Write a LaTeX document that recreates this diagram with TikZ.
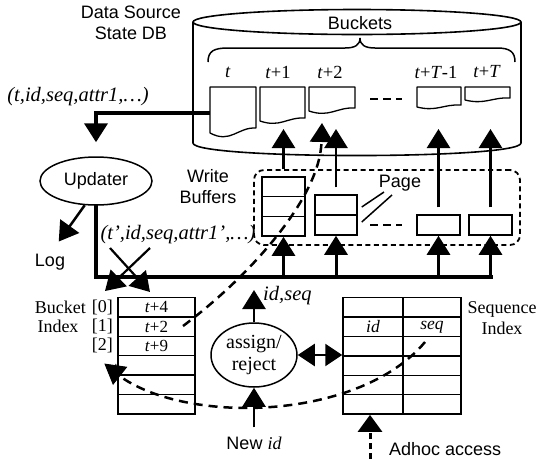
\documentclass[tikz,border=0pt]{standalone}
\usepackage{fontspec}
\setmainfont{Liberation Serif}
\newfontfamily\sansf{Liberation Sans}
\usetikzlibrary{arrows.meta,calc,shapes.geometric}

% name, x1, x2, ytop, yleft-bottom, right rise
\newcommand{\bkpage}[6]{%
  \draw[pageline] (#2,#4) -- (#3,#4) -- (#3,{#5-#6})
    .. controls ({#3-0.4*(#3-#2)},{#5-#6-1}) and ({#2+0.45*(#3-#2)},{#5+2*#6+1}) .. (#2,#5) -- cycle;
  \node[inner sep=0pt, minimum width={#3-#2}, minimum height={#5-#4}, anchor=north west] (#1) at (#2,#4) {};
}

\begin{document}
\begin{tikzpicture}[x=1pt,y=-1pt,
  >={Triangle[width=23pt,length=19pt]},
  pageline/.style={line width=1.3pt, line join=round},
  cyl/.style={line width=1.6pt},
  cell/.style={draw, line width=1.5pt, inner sep=0pt, font=\fontsize{17}{19}\selectfont},
  sans18/.style={font=\sansf\fontsize{18}{21}\selectfont, inner sep=0pt},
  ser18/.style={font=\fontsize{18}{21}\selectfont, inner sep=0pt},
  ser20/.style={font=\fontsize{20.5}{23}\selectfont, inner sep=0pt},
  uparrow/.style={line width=2.5pt, ->, shorten <=7pt},
  busarrow/.style={line width=3pt, ->},
  dcurve/.style={line width=2.5pt, dash pattern=on 9pt off 6pt},
  ell/.style={draw, ellipse, line width=1.5pt, inner sep=0pt},
  gapdash/.style={line width=1.5pt, dash pattern=on 8pt off 5pt}
]
\useasboundingbox (0,0) rectangle (536,459);

% ---------- Data source state DB (cylinder) ----------
\node[sans18, align=center] (dslbl) at (131,23) {Data Source\\State DB};
\draw[cyl] (357,22) ellipse [x radius=164, y radius=12.5];
\draw[cyl] (193,22) -- (193,143) .. controls (193,159.7) and (521,159.7) .. (521,143) -- (521,22);
\node[sans18] (buckets) at (360,23) {Buckets};
\draw[line width=1.5pt] (208,62) .. controls (208,51) and (214,48) .. (228,48) -- (345,48)
  .. controls (355,48) and (360,45) .. (360,38)
  .. controls (360,45) and (365,48) .. (375,48) -- (497,48)
  .. controls (510,48) and (515,52) .. (515,62);

% bucket labels
\node[font=\fontsize{18.5}{21}\selectfont, inner sep=0pt] (lt0) at (228,72) {\textit{t}};
\node[font=\fontsize{18.5}{21}\selectfont, inner sep=0pt] (lt1) at (278,72) {\textit{t}+1};
\node[font=\fontsize{18.5}{21}\selectfont, inner sep=0pt] (lt2) at (330,72) {\textit{t}+2};
\node[font=\fontsize{18.5}{21}\selectfont, inner sep=0pt] (lt3) at (436,72) {\textit{t}+\textit{T}-1};
\node[font=\fontsize{18.5}{21}\selectfont, inner sep=0pt] (lt4) at (487,72) {\textit{t}+\textit{T}};

% bucket pages
\bkpage{p0}{210}{256}{87}{133}{5}
\bkpage{p1}{260}{305}{87}{121}{3}
\bkpage{p2}{309}{355}{87}{111}{3}
\bkpage{p3}{417}{461}{87}{107}{2}
\bkpage{p4}{465}{510}{87}{100}{2}
\draw[gapdash] (370,99) -- (402,99);

% ---------- Updater ----------
\node[ser20] (tuple) at (78,97) {\textit{(t,id,seq,attr1,…)}};
\node[ell, minimum width=112, minimum height=48, font=\sansf\fontsize{18}{21}\selectfont] (upd) at (96,181) {Updater};
\draw[line width=4pt, ->, shorten >=14pt] ($(p0.west)+(0,3)$) -| (upd.north);
\node[sans18] (log) at (50,262) {Log};
\draw[line width=2.5pt, ->, shorten >=15pt] (upd.245) -- (log.north);

% ---------- Write buffers ----------
\node[sans18, align=center] (wblbl) at (208,187) {Write\\Buffers};
\node[draw, line width=1.8pt, dash pattern=on 5pt off 3.5pt, rounded corners=10pt,
      minimum width=266, minimum height=75, inner sep=0pt] (wbuf) at (387,207.5) {};
\node[cell, minimum width=43, minimum height=19.67] (wb1a) at (283.5,186.8) {};
\node[cell, minimum width=43, minimum height=19.67] (wb1b) at (283.5,206.5) {};
\node[cell, minimum width=43, minimum height=19.67] (wb1c) at (283.5,226.2) {};
\node[cell, minimum width=42, minimum height=20] (wb2a) at (336,205) {};
\node[cell, minimum width=42, minimum height=20] (wb2b) at (336,225) {};
\node[cell, minimum width=43, minimum height=20] (wb3) at (438.5,225) {};
\node[cell, minimum width=43, minimum height=20] (wb4) at (490.5,225) {};
\draw[gapdash] (370,225) -- (402,225);
\node[sans18] (pagelbl) at (400,183) {Page};
\coordinate (pgA) at (384,192);
\coordinate (pgB) at (392,195);
\draw[line width=1.5pt] ($(wb2a.east)+(4,2)$) -- (pgA);
\draw[line width=1.5pt] ($(wb2b.east)+(4,-3)$) -- (pgB);

% arrows from buffers into the buckets
\coordinate (tipline) at (0,129);
\draw[uparrow] (wb1a.north) -- (wb1a.north |- tipline);
\draw[uparrow] (wb2a.north) -- (wb2a.north |- tipline);
\draw[uparrow] (wb3.north) -- (wb3.north |- tipline);
\draw[uparrow] (wb4.north) -- (wb4.north |- tipline);

% ---------- bus from updater ----------
\coordinate (buslvl) at (0,277);
\draw[line width=4pt, line cap=rect] (upd.south) |- (wb4.south |- buslvl);
\draw[busarrow] (wb1c.south |- buslvl) -- (wb1c.south);
\draw[busarrow] (wb2b.south |- buslvl) -- (wb2b.south);
\draw[busarrow] (wb3.south |- buslvl) -- (wb3.south);
\draw[busarrow] (wb4.south |- buslvl) -- (wb4.south);

\node[ser20] (tuple2) at (178,235) {\textit{(t',id,seq,attr1',…)}};
\coordinate (xa1) at (110,248);
\coordinate (xa2) at (150,292);
\coordinate (xb1) at (150,248);
\coordinate (xb2) at (105,291);
\draw[line width=2.2pt, ->] (xa1) -- (xa2);
\draw[line width=2.2pt, ->] (xb1) -- (xb2);

% ---------- Bucket index ----------
\node[cell, minimum width=77, minimum height=19.4] (b0) at (156.5,307.2) {\textit{t}+4};
\node[cell, minimum width=77, minimum height=19.4] (b1) at (156.5,326.6) {\textit{t}+2};
\node[cell, minimum width=77, minimum height=19.4] (b2) at (156.5,346.0) {\textit{t}+9};
\node[cell, minimum width=77, minimum height=19.4] (b3) at (156.5,365.4) {};
\node[cell, minimum width=77, minimum height=19.4] (b4) at (156.5,384.8) {};
\node[cell, minimum width=77, minimum height=19.4] (b5) at (156.5,404.2) {};
\node[ser18, anchor=east] (bkw) at (86,307) {Bucket};
\node[ser18] (ixw) at (58,326) {Index};
\node[ser18, anchor=east] (bk0) at (113,307) {[0]};
\node[ser18, anchor=east] (bk1) at (113,326) {[1]};
\node[ser18, anchor=east] (bk2) at (113,345) {[2]};

% ---------- assign / reject ----------
\node[ell, minimum width=86, minimum height=64, align=center, font=\fontsize{20}{22}\selectfont] (ar) at (254,355) {assign/\\reject};
\coordinate (idseqtip) at (254,290);
\draw[line width=2.5pt, ->] (ar.north) -- (idseqtip);
\node[ser20, anchor=west] (idseq) at (263,296) {\textit{id,seq}};
\node[sans18] (newid) at (254,443) {New {\rmfamily\itshape id}};
\draw[line width=2.5pt, ->, shorten <=9pt] (newid.north) -- (ar.south);

% ---------- Sequence index ----------
\foreach \r/\y in {0/307.4,1/326.8,2/346.2,3/365.6,4/385.0,5/404.4}{
  \node[cell, minimum width=60, minimum height=19.4] (s\r a) at (373,\y) {};
  \node[cell, minimum width=58, minimum height=19.4] (s\r b) at (432,\y) {};
}
\node[cell, draw=none, font=\fontsize{17.5}{19}\selectfont] (idh) at (s1a) {\textit{id}};
\node[cell, draw=none, font=\fontsize{17.5}{19}\selectfont] (seqh) at (s1b) {\textit{seq}};
\node[ser18, align=center] (seqlbl) at (502,318) {Sequence\\Index};
\draw[line width=2.5pt, {Triangle[width=22pt,length=17pt]}-{Triangle[width=22pt,length=17pt]}] (ar.east) -- (ar.east -| s2a.west);

\coordinate (adhocbot) at (370,459);
\draw[line width=3pt, dash pattern=on 6pt off 4pt, -{Triangle[width=24pt,length=17pt]}] (adhocbot) -- (adhocbot |- s5a.south);
\node[sans18, anchor=west] (adhoc) at (389,449) {Adhoc access};

% ---------- dashed curves ----------
\coordinate (c1s) at (183,326);
\coordinate (c1e) at (322,123);
\draw[dcurve, ->] (c1s) .. controls (245,280) and (320,200) .. (c1e);
\coordinate (c2s) at (425,342);
\coordinate (c2e) at (121,377);
\draw[dcurve] (c2s) .. controls (360,420) and (190,425) .. (c2e);
\coordinate (bkB) at (116,364);
\coordinate (bkT) at (113,385);
\draw[line width=1pt, -{Triangle[width=23pt,length=20pt]}] (bkB) -- (bkT);
\end{tikzpicture}
\end{document}
